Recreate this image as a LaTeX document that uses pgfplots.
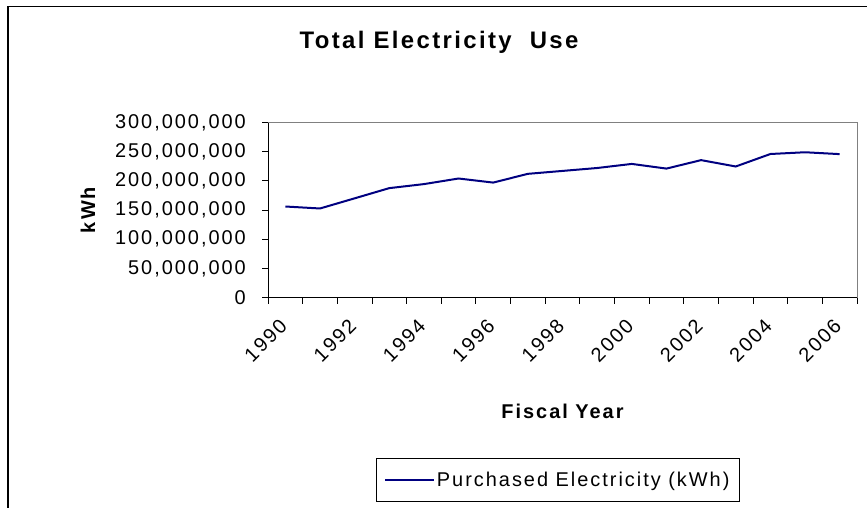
\documentclass[border=0pt]{standalone}
\usepackage{fontspec}
\setmainfont{Liberation Sans}[LetterSpace=10]
\usepackage{pgfplots}
\pgfplotsset{compat=1.18}
\definecolor{linenavy}{HTML}{000080}
\definecolor{plotgray}{HTML}{808080}

% purchased electricity, kWh, fiscal years 1990-2006 (index 0 = 1990)
\pgfplotstableread{
idx kwh
0  156000000
1  152600000
2  170000000
3  187500000
4  194400000
5  204000000
6  197000000
7  212000000
8  217000000
9  222000000
10 229000000
11 221000000
12 235500000
13 224600000
14 246000000
15 249000000
16 245800000
}\elecdata

\begin{document}
\begin{tikzpicture}[x=1bp,y=1bp]
\useasboundingbox (0,0) rectangle (867,-508);
% chart frame (open to the right and bottom, as in the cropped original)
\draw[line width=1.8bp] (7.8,-530) -- (7.8,-6.5) -- (900,-6.5);
\node[font=\fontsize{24}{28}\selectfont\bfseries] at (439,-42) {Total Electricity\ \ Use};

\begin{axis}[
  at={(268bp,-297.5bp)}, anchor=south west,
  scale only axis, width=589bp, height=175bp,
  xmin=-0.5, xmax=16.5,
  ymin=0, ymax=300000000,
  axis x line*=bottom, axis y line*=left,
  axis line style={black, line width=1bp},
  tick align=outside,
  major tick length=0pt,
  minor tick length=6bp,
  tick style={black, line width=0.8bp},
  xtick={0,2,4,6,8,10,12,14,16},
  xticklabels={1990,1992,1994,1996,1998,2000,2002,2004,2006},
  minor xtick={-0.5,0.5,1.5,2.5,3.5,4.5,5.5,6.5,7.5,8.5,9.5,10.5,11.5,12.5,13.5,14.5,15.5,16.5},
  ytick={0,50000000,100000000,150000000,200000000,250000000,300000000},
  minor ytick={0,50000000,100000000,150000000,200000000,250000000,300000000},
  yticklabels={0,{50,000,000},{100,000,000},{150,000,000},{200,000,000},{250,000,000},{300,000,000}},
  scaled y ticks=false,
  /pgf/number format/assume math mode=true,
  tick label style={font=\fontsize{20}{24}\selectfont, inner sep=0pt},
  yticklabel style={anchor=east, xshift=-22bp},
  xticklabel style={xshift=-7bp, yshift=-20bp, rotate=45, anchor=north east},
  xlabel={Fiscal Year},
  ylabel={kWh},
  label style={font=\fontsize{20}{24}\selectfont\bfseries},
  xlabel style={at={(axis description cs:0.5,-0.6514)}, anchor=center},
  ylabel style={at={(axis description cs:-0.3056,0.5)}, anchor=center},
  legend style={at={(axis description cs:0.1834,-0.917)}, anchor=north west,
    draw=black, line width=0.8bp, font=\fontsize{20}{24}\selectfont,
    inner xsep=8bp, inner ysep=12bp, nodes={inner sep=1.5bp}},
  legend image code/.code={\draw[#1] (0bp,0bp) -- (49bp,0bp);},
  after end axis/.code={
    \draw[plotgray, line width=1bp] (rel axis cs:0,1) -- (rel axis cs:1,1) -- (rel axis cs:1,0);
  },
  clip=false,
]
\addplot[linenavy, line width=2bp] table[x=idx, y=kwh] {\elecdata};
\addlegendentry{Purchased Electricity (kWh)}
\end{axis}
\end{tikzpicture}
\end{document}
